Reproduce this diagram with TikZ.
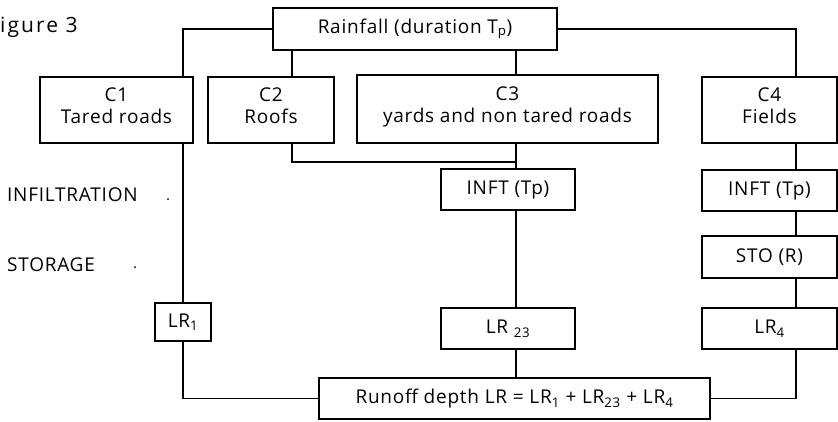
\documentclass[tikz,border=0pt]{standalone}
\usepackage{fontspec}
\setmainfont[LetterSpace=4]{Open Sans}
\newfontfamily\capfont[LetterSpace=10]{Open Sans}
\begin{document}
\begin{tikzpicture}[x=1pt,y=-1pt,
  bx/.style={draw, line width=1.1pt, inner sep=0pt, align=center,
    font=\fontsize{19}{22}\selectfont},
  lbl/.style={inner sep=0pt, font=\fontsize{19}{22}\selectfont},
  ln/.style={line width=1.1pt}]
\useasboundingbox (0,0) rectangle (838,421);
\clip (0,0) rectangle (838,421);
% column coordinates
\coordinate (c1x) at (183,0);
\coordinate (c2x) at (292,0);
\coordinate (c3x) at (516,0);
\coordinate (c4x) at (796,0);
\coordinate (j23) at (516,162);
% nodes
\node[lbl, anchor=base west, font=\capfont\fontsize{21}{24}\selectfont] (fig) at (-13,32) {Figure 3};
\node[bx, minimum width=284pt, minimum height=42pt] (rain) at (415,29) {Rainfall (duration T\textsubscript{p})};
\node[bx, minimum width=153pt, minimum height=66pt] (c1) at (116.5,110) {C1\\Tared roads\\[-14pt]\mbox{}};
\node[bx, minimum width=126pt, minimum height=66pt] (c2) at (271,110) {C2\\Roofs\\[-14pt]\mbox{}};
\node[bx, minimum width=301pt, minimum height=68pt] (c3) at (507.5,109) {C3\\yards and non tared roads\\[-14pt]\mbox{}};
\node[bx, minimum width=135pt, minimum height=66pt] (c4) at (769.5,110) {C4\\Fields\\[-14pt]\mbox{}};
\node[bx, minimum width=134pt, minimum height=41pt] (inft3) at (508,189.5) {INFT (Tp)};
\node[bx, minimum width=135pt, minimum height=41pt] (inft4) at (769.5,190.5) {INFT (Tp)};
\node[bx, minimum width=135pt, minimum height=42pt] (sto) at (769.5,257) {STO (R)};
\node[bx, minimum width=56pt, minimum height=38pt] (lr1) at (183,322) {LR\textsubscript{1}};
\node[bx, minimum width=134pt, minimum height=41pt] (lr23) at (508,328.5) {LR \textsubscript{23}};
\node[bx, minimum width=135pt, minimum height=41pt] (lr4) at (769.5,328.5) {LR\textsubscript{4}};
\node[bx, minimum width=391pt, minimum height=41pt] (run) at (514.5,398.5) {Runoff depth LR = LR\textsubscript{1} + LR\textsubscript{23} + LR\textsubscript{4}};
\node[lbl, anchor=west] (infl) at (7,195) {INFILTRATION};
\node[lbl, anchor=west] (stol) at (7,265) {STORAGE};
\fill (168,199) circle (1pt);
\fill (135,267) circle (1pt);
% connectors
\draw[ln] (rain.west) -- (rain.west -| c1x) -- (c1x |- c1.north);
\draw[ln] (rain.south -| c2x) -- (c2x |- c2.north);
\draw[ln] (rain.south -| c3x) -- (c3x |- c3.north);
\draw[ln] (rain.east) -- (rain.east -| c4x) -- (c4x |- c4.north);
\draw[ln] (c1x |- c1.south) -- (lr1.north);
\draw[ln] (c2x |- c2.south) -- (c2x |- j23) -- (j23);
\draw[ln] (c3x |- c3.south) -- (c3x |- inft3.north);
\draw[ln] (c3x |- inft3.south) -- (c3x |- lr23.north);
\draw[ln] (c3x |- lr23.south) -- (c3x |- run.north);
\draw[ln] (c4x |- c4.south) -- (c4x |- inft4.north);
\draw[ln] (c4x |- inft4.south) -- (c4x |- sto.north);
\draw[ln] (c4x |- sto.south) -- (c4x |- lr4.north);
\draw[ln] (c4x |- lr4.south) -- (c4x |- run.east) -- (run.east);
\draw[ln] (lr1.south) -- (lr1.south |- run.west) -- (run.west);
\end{tikzpicture}
\end{document}
